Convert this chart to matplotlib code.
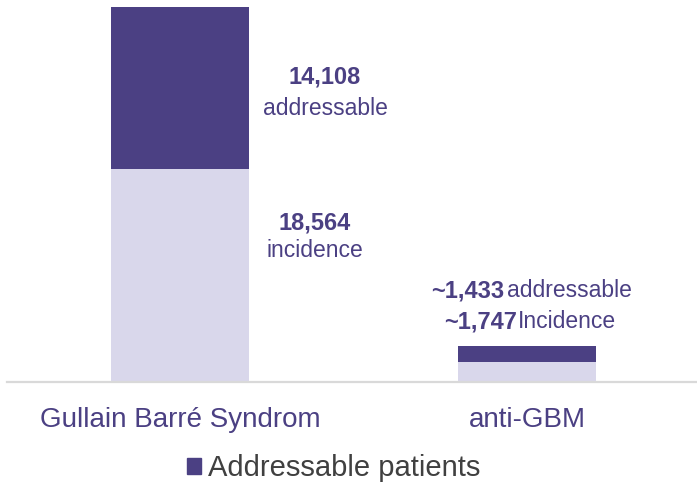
import matplotlib
matplotlib.use("Agg")
import matplotlib.pyplot as plt
from matplotlib.patches import Patch
from matplotlib.transforms import offset_copy

plt.rcParams['font.family'] = ['Liberation Sans', 'DejaVu Sans']

# data
categories = ["Gullain Barré Syndrom", "anti-GBM"]
incidence = [18564, 1747]
addressable = [14108, 1433]

dark = "#4B4083"
light = "#D9D7EB"
txt = "#4B4083"

fig = plt.figure(figsize=(6.97, 4.87), dpi=100)
ax = fig.add_axes([6.5 / 697, 105 / 487, 1 - 6.5 / 697, 375 / 487])

x = range(len(categories))
ax.bar(x, incidence, width=0.4, color=light)
ax.bar(x, addressable, width=0.4, bottom=incidence, color=dark)

ax.set_xlim(-0.5, 1.49)
ax.set_ylim(0, incidence[0] + addressable[0])
ax.set_xticks(list(x))
ax.set_xticklabels(categories, fontsize=20, color=txt)
ax.tick_params(axis='x', length=0, pad=18)
ax.set_yticks([])
for s in ["left", "right", "top"]:
    ax.spines[s].set_visible(False)
ax.spines["bottom"].set_color("#D9D9D9")
ax.spines["bottom"].set_linewidth(1.6)

# labels for the big bar
ax.text(0.418, 26575, f"{addressable[0]:,}", ha='center', va='center',
        fontsize=17, fontweight='bold', color=txt)
ax.text(0.418, 23870, "addressable", ha='center', va='center', fontsize=16.5, color=txt)
ax.text(0.389, 13850, f"{incidence[0]:,}", ha='center', va='center',
        fontsize=17, fontweight='bold', color=txt)
ax.text(0.389, 11500, "incidence", ha='center', va='center', fontsize=16.5, color=txt)

# mixed bold / regular lines, centred by measuring each piece
renderer = fig.canvas.get_renderer()


def mixed_line(xc, yc, parts, gap=0):
    items = []
    for s, w, fs in parts:
        t = ax.text(xc, yc, s, ha='left', va='center', fontsize=fs, fontweight=w, color=txt)
        items.append((t, t.get_window_extent(renderer).width))
    total = sum(w for _, w in items) + gap * (len(items) - 1)
    off = -total / 2
    for t, w in items:
        t.set_transform(offset_copy(ax.transData, fig=fig, x=off, y=0, units='dots'))
        off += w + gap


mixed_line(1.014, 7930, [(f"~{addressable[1]:,}", 'bold', 17), ("addressable", 'normal', 16.5)], gap=3)
mixed_line(1.009, 5230, [(f"~{incidence[1]:,}", 'bold', 17), ("Incidence", 'normal', 16.5)], gap=0)

leg = fig.legend(handles=[Patch(color=dark, label="Addressable patients")],
                 loc='center', bbox_to_anchor=(0.4785, 0.038), frameon=False,
                 fontsize=21, handlelength=0.48, handleheight=0.48, handletextpad=0.25)
for t in leg.get_texts():
    t.set_color("#404040")

fig.savefig("out.png", dpi=100)
